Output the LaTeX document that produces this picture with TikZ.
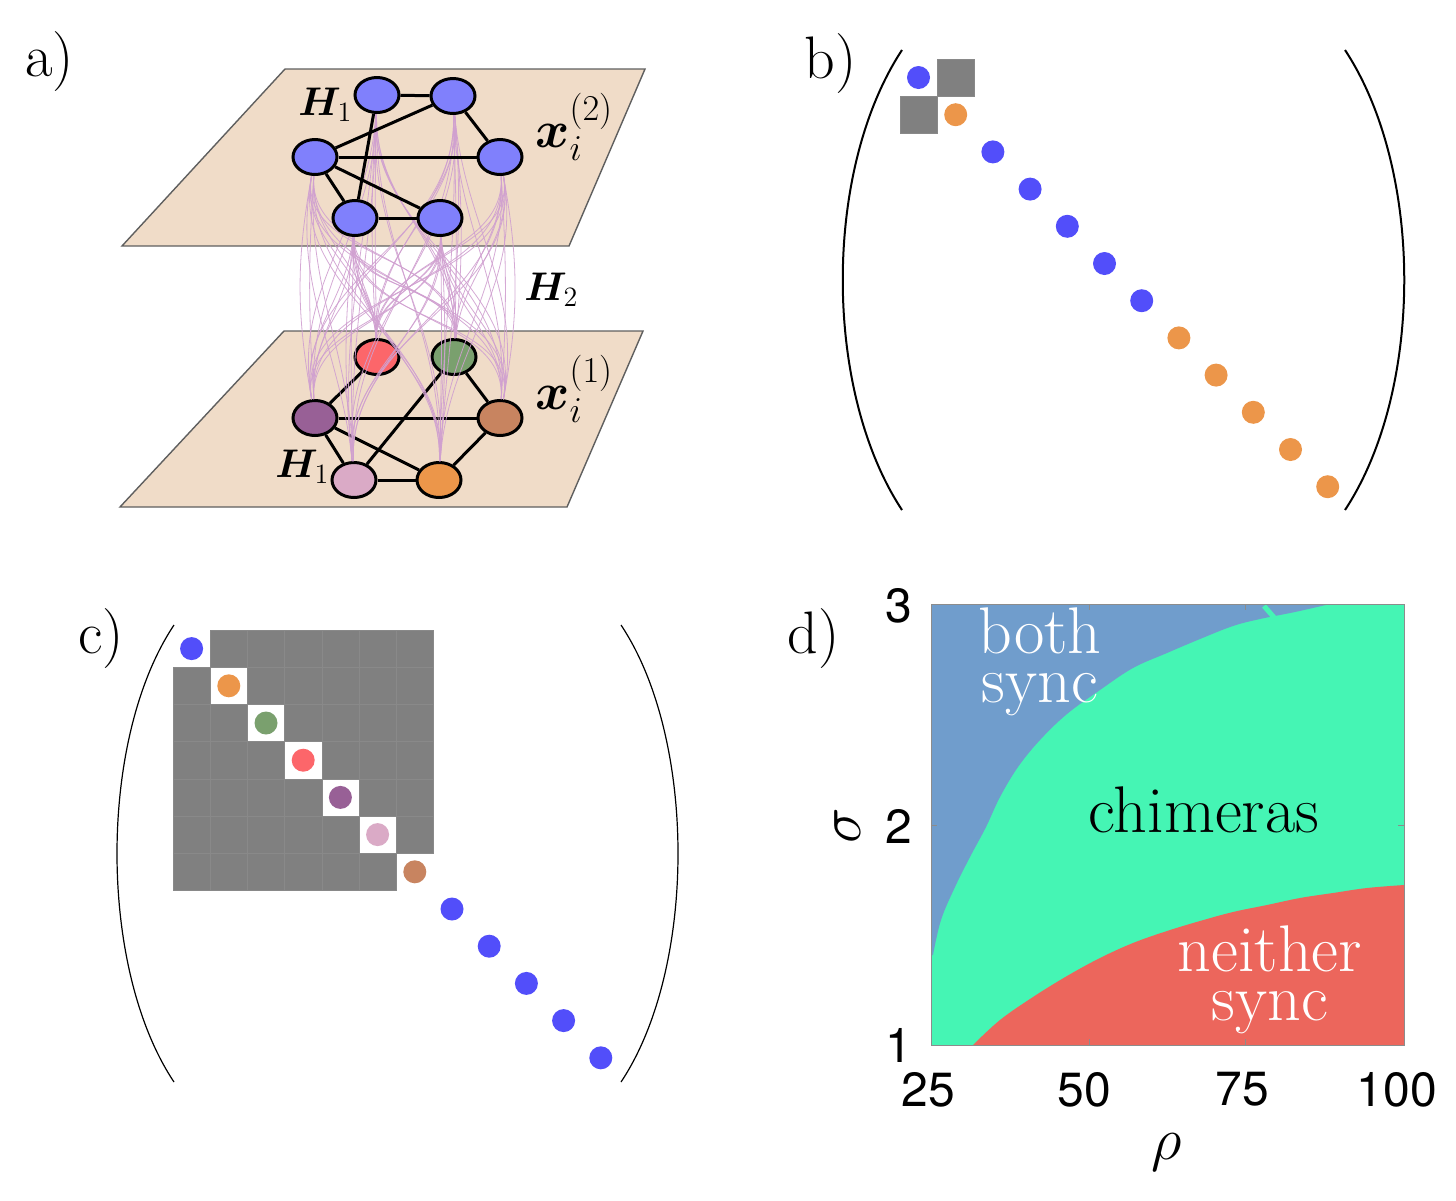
\RequirePackage{fix-cm}
\documentclass[tikz,border=0pt]{standalone}
\usepackage{amsmath}
\usepackage{bm}
\usepackage{fontspec}
\setsansfont{TeX Gyre Heros}
\usetikzlibrary{shapes.geometric}
\definecolor{planefill}{RGB}{240,220,200}
\definecolor{planeedge}{RGB}{95,95,95}
\definecolor{layerblue}{RGB}{128,128,252}
\definecolor{dotblue}{RGB}{82,78,250}
\definecolor{nodered}{RGB}{252,102,106}
\definecolor{nodegreen}{RGB}{122,160,110}
\definecolor{nodepurple}{RGB}{152,96,150}
\definecolor{nodebrown}{RGB}{200,132,96}
\definecolor{nodepink}{RGB}{218,170,198}
\definecolor{nodeorange}{RGB}{236,150,74}
\definecolor{linkpink}{RGB}{208,160,208}
\definecolor{syncblue}{RGB}{112,157,204}
\definecolor{chimgreen}{RGB}{69,245,180}
\definecolor{neitherred}{RGB}{236,102,92}
\definecolor{blockgray}{RGB}{128,128,128}
\pgfdeclarelayer{planes}
\pgfdeclarelayer{lower}
\pgfdeclarelayer{links}
\pgfsetlayers{planes,lower,links,main}

\begin{document}
\begin{tikzpicture}[
    x=0.5pt, y=-0.5pt,
    osc/.style={draw, ellipse, line width=1.5pt, minimum width=22pt,
                minimum height=17.5pt, inner sep=0pt},
    cpl/.style={line width=1.5pt},
    h2/.style={linkpink, line width=0.4pt, opacity=0.9},
    plane/.style={fill=planefill, draw=planeedge, line width=0.7pt},
    dot/.style={circle, inner sep=0pt, minimum size=11.5pt},
    blk/.style={fill=blockgray, draw=blockgray!93!white, line width=0.3pt},
    paren/.style={line width=1pt},
    lbl/.style={font=\fontsize{30}{36}\selectfont, anchor=base west, inner sep=0pt},
    mlbl/.style={anchor=base west, inner sep=0pt},
    region/.style={font=\fontsize{33}{24.5}\selectfont, align=center, anchor=base, inner sep=0pt},
    tick/.style={font=\sffamily\fontsize{24}{28}\selectfont, inner sep=0pt},
    frame/.style={draw=black!45, line width=0.5pt},
  ]
  \useasboundingbox (0,0) rectangle (1456,1200);

  % a) two layers
  \node[lbl] (la) at (25,76) {a)};
  \begin{pgfonlayer}{planes}
    \draw[plane] (285,69) -- (645,69) -- (569,246) -- (122,246) -- cycle;
    \draw[plane] (284,331) -- (643,331) -- (567,507) -- (120,507) -- cycle;
  \end{pgfonlayer}

  \begin{pgfonlayer}{lower}
    \node[osc, fill=nodered] (lr) at (377,357) {};
    \node[osc, fill=nodegreen] (lg) at (454,357) {};
    \node[osc, fill=nodepurple] (lp) at (315,418) {};
    \node[osc, fill=nodebrown] (lb) at (500,418) {};
    \node[osc, fill=nodepink] (lk) at (354,480) {};
    \node[osc, fill=nodeorange] (lo) at (439,480) {};
    \foreach \a/\b in {lr/lp,lg/lk,lg/lb,lp/lb,lp/lk,lp/lo,lb/lo,lk/lo}
      \draw[cpl] (\a) -- (\b);
  \end{pgfonlayer}

  \node[osc, fill=layerblue] (u1) at (377,95) {};
  \node[osc, fill=layerblue] (u2) at (453,96) {};
  \node[osc, fill=layerblue] (u3) at (315,157) {};
  \node[osc, fill=layerblue] (u4) at (500,157) {};
  \node[osc, fill=layerblue] (u5) at (355,218) {};
  \node[osc, fill=layerblue] (u6) at (440,218) {};
  \foreach \a/\b in {u1/u2,u2/u3,u2/u4,u3/u4,u3/u5,u3/u6,u1/u5,u5/u6}
    \draw[cpl] (\a) -- (\b);

  % interlayer coupling
  \begin{pgfonlayer}{links}
    \foreach \u/\ux in {u1/377,u2/453,u3/315,u4/500,u5/355,u6/440}
      \foreach \l/\lx in {lr/377,lg/454,lp/315,lb/500,lk/354,lo/439}
        \foreach \k in {0.04,0.11} {
          \pgfmathsetmacro\aout{270+(\ux-407)*\k}
          \pgfmathsetmacro\ain{90-(\lx-407)*\k}
          \draw[h2] (\u) to[out=\aout, in=\ain] (\l);
        }
  \end{pgfonlayer}

  \node[mlbl, font=\fontsize{20}{24}\selectfont] (h1u) at (298,115) {$\bm{H}_1$};
  \node[mlbl, font=\fontsize{20}{24}\selectfont] (h1l) at (275,477) {$\bm{H}_1$};
  \node[mlbl, font=\fontsize{20}{24}\selectfont] (h2) at (524,300) {$\bm{H}_2$};
  \node[mlbl, font=\fontsize{26}{30}\selectfont] (x2) at (535,147) {$\bm{x}_i^{(2)}$};
  \node[mlbl, font=\fontsize{26}{30}\selectfont] (x1) at (535,409) {$\bm{x}_i^{(1)}$};

  % b) block structure
  \node[lbl] (lbb) at (804,78) {b)};
  \draw[paren] (902,50) .. controls (823,170) and (823,390) .. (902,510);
  \draw[paren] (1345,50) .. controls (1424,170) and (1424,390) .. (1345,510);
  \draw[blk] (937.1,59) rectangle +(37.2,37.2);
  \draw[blk] (899.9,96.2) rectangle +(37.2,37.2);
  \foreach \c [count=\i from 0] in {dotblue,nodeorange,dotblue,dotblue,dotblue,dotblue,
      dotblue,nodeorange,nodeorange,nodeorange,nodeorange,nodeorange}
    \node[dot, fill=\c] (b\i) at ({918.5+37.2*\i},{77.5+37.2*\i}) {};

  % c) finer block structure
  \node[lbl] (lc) at (78,653) {c)};
  \draw[paren, line width=0.6pt] (174,625) .. controls (98,739) and (98,968) .. (174,1082);
  \draw[paren, line width=0.6pt] (621,625) .. controls (697,739) and (697,968) .. (621,1082);
  \foreach \r in {0,...,6}
    \foreach \s in {0,...,6} {
      \ifnum\r=\s\else
        \draw[blk] ({173+37.2*\s},{630+37.2*\r}) rectangle +(37.2,37.2);
      \fi
    }
  \foreach \c [count=\i from 0] in {dotblue,nodeorange,nodegreen,nodered,nodepurple,nodepink,
      nodebrown,dotblue,dotblue,dotblue,dotblue,dotblue}
    \node[dot, fill=\c] (c\i) at ({191.6+37.2*\i},{648.6+37.2*\i}) {};

  % d) phase diagram
  \node[lbl] (ld) at (787,653) {d)};
  \fill[chimgreen] (931,604) rectangle (1404,1045);
  \fill[syncblue] (931,604) -- (1330,604) -- plot[smooth, tension=0.6] coordinates {
      (1330,604) (1295,612) (1260,619) (1233,626) (1200,639) (1167,653) (1133,668)
      (1100,690) (1067,714) (1040,740) (1018,767) (1000,797) (986,827) (970,857)
      (955,887) (941,920) (933,955)} -- (931,955) -- cycle;
  \draw[chimgreen, line width=2.5pt] (1264,606) -- (1286,631);
  \fill[neitherred] (973,1045) -- plot[smooth, tension=0.6] coordinates {
      (973,1045) (1000,1020) (1033,997) (1067,976) (1100,958) (1133,943) (1167,931)
      (1200,921) (1233,912) (1267,905) (1300,898) (1333,893) (1367,888) (1404,885)}
      -- (1404,1045) -- cycle;
  \draw[frame] (931,604) rectangle (1404,1045);
  \foreach \tx in {1089,1245} {
    \draw[frame] (\tx,1045) -- ++(0,-6);
    \draw[frame] (\tx,604) -- ++(0,6);
  }
  \draw[frame] (931,825) -- ++(6,0);
  \draw[frame] (1404,825) -- ++(-6,0);

  \node[region, text=white] (both) at (1040,702) {both\\sync};
  \node[region] (chim) at (1204,832) {chimeras};
  \node[region, text=white] (neith) at (1270,1020) {neither\\sync};

  \node[tick, anchor=east] (s3) at (913,606) {3};
  \node[tick, anchor=east] (s2) at (913,826) {2};
  \node[tick, anchor=east] (s1) at (913,1045) {1};
  \node[tick, anchor=north] (r25) at (928,1072) {25};
  \node[tick, anchor=north] (r50) at (1084,1072) {50};
  \node[tick, anchor=north] (r75) at (1242,1072) {75};
  \node[tick, anchor=north] (r100) at (1397,1072) {100};
  \node[font=\fontsize{30}{36}\selectfont, inner sep=0pt] (rho) at (1167,1152) {$\rho$};
  \node[font=\fontsize{30}{36}\selectfont, inner sep=0pt, rotate=90] (sig) at (848,826) {$\sigma$};
\end{tikzpicture}
\end{document}
